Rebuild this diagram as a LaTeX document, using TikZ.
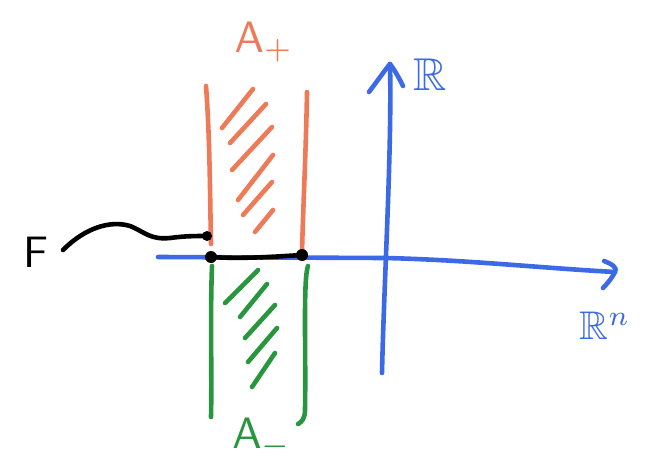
\documentclass[tikz,border=0pt]{standalone}
\usepackage{amssymb}
\begin{document}
\begin{tikzpicture}[x=1pt,y=-1pt,line cap=round,line join=round,
  pen/.style={line width=4.6pt},
  orangepen/.style={pen,draw=sketchorange},
  greenpen/.style={pen,draw=sketchgreen},
  bluepen/.style={pen,draw=sketchblue},
  blackpen/.style={pen,draw=black},
  dotmark/.style={circle,fill=black,inner sep=0pt,minimum size=12pt},
  lbl/.style={inner sep=0pt}]
\definecolor{sketchorange}{RGB}{238,122,88}
\definecolor{sketchgreen}{RGB}{40,150,60}
\definecolor{sketchblue}{RGB}{60,105,230}
\useasboundingbox (0,0) rectangle (652,468);
% axes
\coordinate (hL) at (158,257);
\coordinate (hM) at (385,258);
\coordinate (hR) at (615,272);
\coordinate (vB) at (382,373);
\coordinate (vT) at (390,64);
\draw[bluepen] (hL) -- (hM) .. controls (470,260) and (540,268) .. (hR);
\draw[bluepen] (604,261) .. controls (612,264) and (618,268) .. (hR) .. controls (612,278) and (607,284) .. (603,288);
\draw[bluepen] (vB) .. controls (384,280) and (392,150) .. (vT);
\draw[bluepen] (369,92) .. controls (378,80) and (385,70) .. (vT) .. controls (396,72) and (400,80) .. (403,86);
\node[lbl,text=sketchblue] (R) at (430,75) {\scalebox{4.6}{$\mathbb{R}$}};
\node[lbl,text=sketchblue] (Rn) at (605,326) {\scalebox{4}{$\mathbb{R}^{n}$}};
% orange A+
\coordinate (oL1) at (206,86);
\coordinate (oL2) at (211,244);
\coordinate (oR1) at (307,92);
\coordinate (oR2) at (302,252);
\draw[orangepen] (oL1) .. controls (210,140) and (210,200) .. (oL2);
\draw[orangepen] (oR1) .. controls (306,150) and (303,210) .. (oR2);
\foreach \a/\b in {{(253,89)}/{(222,128)},{(266,104)}/{(230,143)},{(272,127)}/{(232,170)},{(273,155)}/{(238,200)},{(272,182)}/{(243,215)},{(273,210)}/{(255,232)}}
  \draw[orangepen] \a -- \b;
\node[lbl,text=sketchorange] (Ap) at (264,42) {\scalebox{4.4}{$\mathsf{A}_{+}$}};
% green A-
\coordinate (gL1) at (212,266);
\coordinate (gL2) at (211,417);
\coordinate (gR1) at (308,266);
\coordinate (gR2) at (298,424);
\draw[greenpen] (gL1) .. controls (210,320) and (212,370) .. (gL2);
\draw[greenpen] (gR1) .. controls (303,280) and (306,350) .. (305,410) .. controls (305,418) and (302,422) .. (gR2);
\foreach \a/\b in {{(258,270)}/{(225,303)},{(267,284)}/{(240,317)},{(275,305)}/{(245,338)},{(277,328)}/{(248,362)},{(275,353)}/{(252,387)}}
  \draw[greenpen] \a -- \b;
\node[lbl,text=sketchgreen] (Am) at (262,438) {\scalebox{4.4}{$\mathsf{A}_{-}$}};
% F
\node[dotmark] (d1) at (211,257) {};
\node[dotmark] (d2) at (302,255) {};
\node[dotmark,minimum size=10pt] (d3) at (207,236) {};
\draw[blackpen] (d1.center) .. controls (240,259) and (270,257) .. (d2.center);
\draw[blackpen] (63,250) .. controls (85,228) and (110,220) .. (130,226) .. controls (145,232) and (150,240) .. (170,238) .. controls (185,236) and (195,236) .. (d3.center);
\node[lbl] (F) at (36,252) {\scalebox{4.4}{\textsf{F}}};
\end{tikzpicture}
\end{document}
